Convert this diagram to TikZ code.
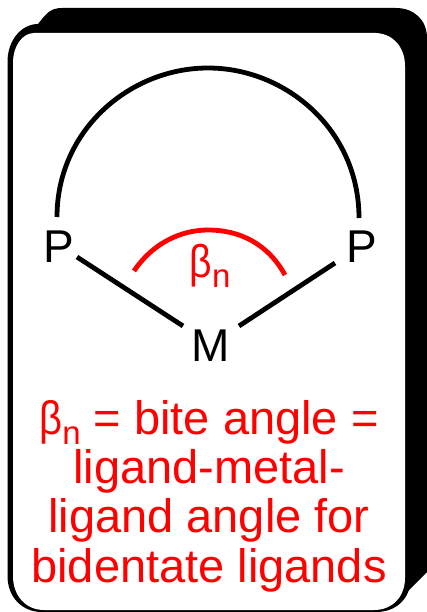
\documentclass[tikz,border=0pt]{standalone}
\usepackage{fontspec}
\setmainfont{Liberation Sans}
\newcommand{\betan}{\scalebox{.85}[1]{β}\raisebox{-.22em}{\fontsize{33}{33}\selectfont n}}
\begin{document}
\begin{tikzpicture}[x=1pt,y=-1pt,
    atom/.style={font=\fontsize{46}{46}\selectfont,inner sep=0pt},
    bond/.style={line width=4.8pt},
    note/.style={font=\fontsize{47}{49.3}\selectfont,text=red,align=center,inner sep=0pt}]
    \useasboundingbox(0,0)rectangle(427,612);
    \fill[white](0,0)rectangle(427,612);
    % shadow and card
    \fill(38,24)..controls(46,14)and(50,8)..(62,8)--(396,8)..controls(414,8)and(427,20)..(427,38)--(427,572)--(408,591)--(38,591)--cycle;
    \fill(36,24)..controls(19,26)and(7.5,42)..(7.5,62)--(7.5,576)..controls(7.5,597)and(22,612)..(42,612)--(376,612)..controls(392,612)and(404,604)..(409,590)--(405,32)--cycle;
    \fill[white](34,33)--(376,33)..controls(394,34)and(405,48)..(405,66)--(405,578)..controls(405,597)and(392,610)..(374,610)--(44,610)..controls(26,610)and(13,596)..(13,576)--(13,62)..controls(13,47)and(22,33)..cycle;
    % atoms
    \node[atom](P1)at(59,247){P};
    \node[atom](P2)at(362,247){P};
    \node[atom](M)at(211,346){M};
    \coordinate(P1a)at(57,217);
    \coordinate(P2a)at(359,218);
    \coordinate(P1b)at(77,257);
    \coordinate(P2b)at(335,263);
    \coordinate(M1)at(183,326);
    \coordinate(M2)at(239,326);
    \coordinate(R1)at(134,271);
    \coordinate(R2)at(285,275);
    % ligand arc
    \draw[bond](P1a)..controls(57,130)and(130,68)..(208,68)..controls(286,68)and(359,130)..(P2a);
    \draw[bond](P1b)--(M1);
    \draw[bond](P2b)--(M2);
    % angle
    \draw[red,line width=4.8pt](R1)..controls(152,244)and(180,230)..(208,230)..controls(240,230)and(268,244)..(R2);
    \node[font=\fontsize{46}{46}\selectfont,text=red,inner sep=0pt](B)at(210,266){\betan};
    \node[note](T)at(209,496){\betan{} = bite angle =\\ligand-metal-\\ligand angle for\\bidentate ligands};
\end{tikzpicture}
\end{document}
